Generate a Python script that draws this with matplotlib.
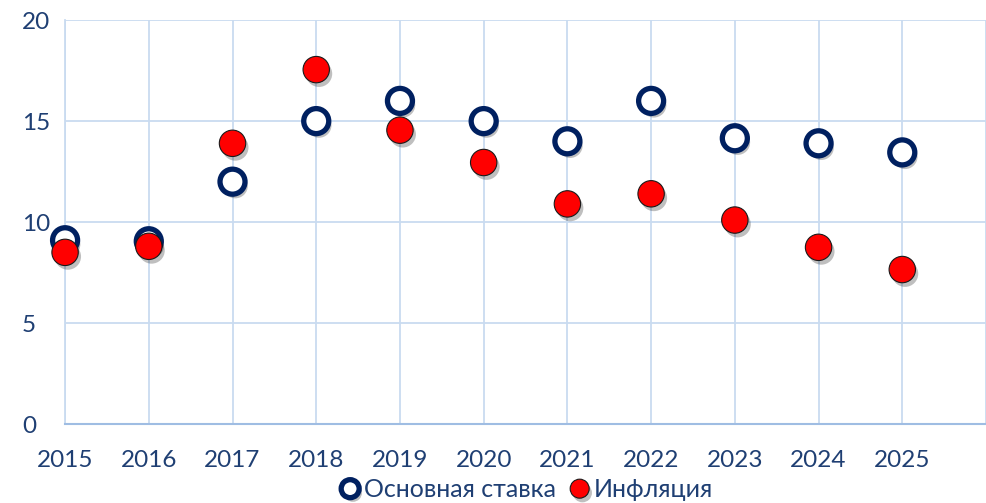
import matplotlib
matplotlib.use('Agg')
import matplotlib.pyplot as plt
import matplotlib.patheffects as pe

years = [2015, 2016, 2017, 2018, 2019, 2020, 2021, 2022, 2023, 2024, 2025]
key_rate = [9.1, 9.05, 12.0, 15.0, 16.0, 15.0, 14.0, 16.0, 14.15, 13.9, 13.45]
inflation = [8.5, 8.8, 13.9, 17.55, 14.55, 12.95, 10.9, 11.4, 10.1, 8.75, 7.65]

plt.rcParams['font.family'] = ['Lato', 'DejaVu Sans']
text_color = '#1f3f73'
grid_color = '#c9dbf0'

fig = plt.figure(figsize=[9.86, 5.03], dpi=100)
ax = fig.add_axes([0.066, 0.157, 0.934, 0.803])

shadow = [pe.SimplePatchShadow(offset=(2, -3), shadow_rgbFace='#000000', alpha=0.25), pe.Normal()]

ax.plot(years, key_rate, linestyle='none', marker='o', markersize=18, markerfacecolor='white',
        markeredgecolor='#002060', markeredgewidth=3.8, label='Основная ставка', zorder=3,
        path_effects=shadow, clip_on=False)
ax.plot(years, inflation, linestyle='none', marker='o', markersize=19, markerfacecolor='#ff0000',
        markeredgecolor='#1a1a1a', markeredgewidth=0.8, label='Инфляция', zorder=4,
        path_effects=shadow, clip_on=False)

ax.set_xlim(2015, 2026)
ax.set_ylim(0, 20)
ax.set_xticks(range(2015, 2027))
ax.set_xticklabels([str(y) for y in years] + [''])
ax.set_yticks([0, 5, 10, 15, 20])

ax.grid(True, color=grid_color, linewidth=1.3, zorder=0)
ax.set_axisbelow(True)
for side in ['top', 'right']:
    ax.spines[side].set_visible(False)
ax.spines['left'].set_color(grid_color)
ax.spines['left'].set_linewidth(1.3)
ax.spines['bottom'].set_color('#9fbde3')
ax.spines['bottom'].set_linewidth(1.5)
ax.tick_params(length=0, labelsize=17.5, colors=text_color)
ax.tick_params(axis='x', pad=19)
ax.tick_params(axis='y', pad=31)
for lbl in ax.get_yticklabels():
    lbl.set_horizontalalignment('left')

fig.legend(*ax.get_legend_handles_labels(), loc='center', bbox_to_anchor=(0.532, 0.026), ncol=2,
           frameon=False, fontsize=18, handletextpad=0.0, columnspacing=0.4, markerscale=0.72,
           borderpad=0, handlelength=1.1, labelcolor=text_color)

plt.savefig('out.png', dpi=100)
